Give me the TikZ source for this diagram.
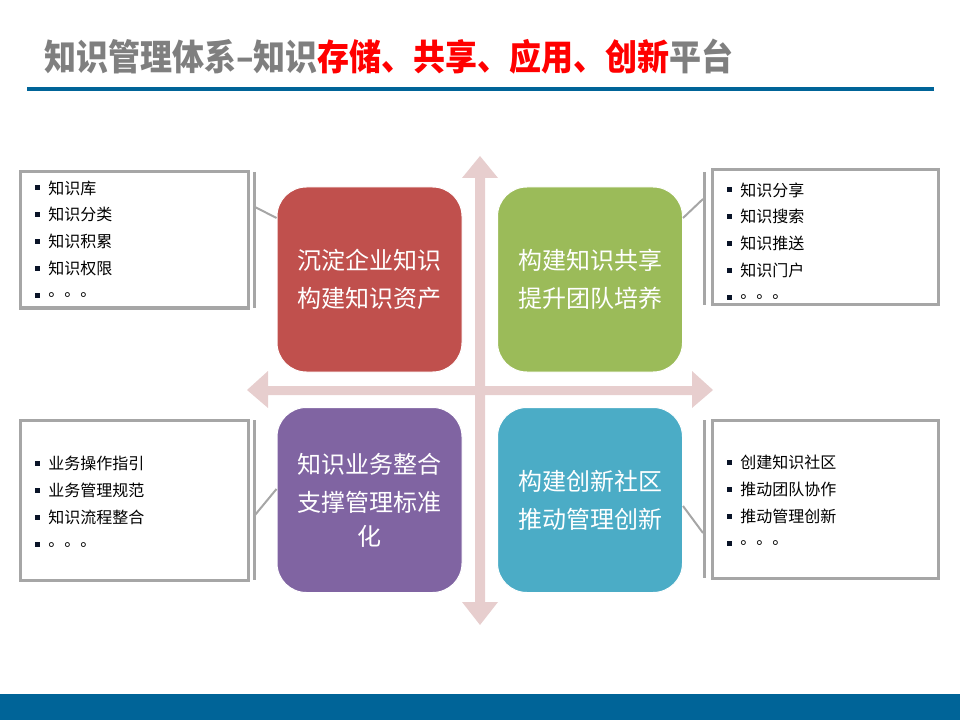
\documentclass[tikz,border=0pt]{standalone}
\usepackage{fontspec}
\usepackage{graphicx}
\setmainfont{Noto Sans CJK SC}
\definecolor{titlegray}{RGB}{127,127,127}
\definecolor{titlered}{RGB}{255,0,0}
\definecolor{barblue}{RGB}{0,100,152}
\definecolor{boxred}{RGB}{192,80,77}
\definecolor{boxgreen}{RGB}{155,187,89}
\definecolor{boxpurple}{RGB}{128,100,162}
\definecolor{boxcyan}{RGB}{75,172,198}
\definecolor{crosspink}{RGB}{231,206,206}
\definecolor{framegray}{RGB}{166,166,166}
\definecolor{bulletcol}{RGB}{10,20,40}
\tikzset{
  quad/.style={rounded corners=22pt, minimum width=138.75pt, minimum height=138.75pt,
    draw=white, line width=0.75pt, text=white, align=center, inner sep=0pt,
    font=\fontsize{18}{28.5}\selectfont},
  listbox/.style={draw=framegray, line width=2.25pt, fill=white, inner sep=0pt},
  bracket/.style={draw=framegray, line width=2.25pt},
  conn/.style={draw=framegray, line width=1.5pt},
  itemtext/.style={anchor=west, inner sep=0pt, font=\fontsize{12}{14}\selectfont, text=black},
}
\begin{document}
\begin{tikzpicture}[x=0.75pt, y=-0.75pt]
\useasboundingbox (0,0) rectangle (960,720);
% title
\node[anchor=west, inner sep=0pt, font=\bfseries\fontsize{24}{28}\selectfont, text=titlegray] (title) at (44,57)
  {\scalebox{1}[1.12]{知识管理体系–知识\textcolor{titlered}{存储、共享、应用、创新}平台}};
\fill[barblue] (27,87) rectangle (934,91);
\fill[barblue] (0,694) rectangle (960,720);
% cross arrows
\fill[crosspink] (475,178) -- (462,178) -- (480,156) -- (498,178) -- (485,178) -- (485,602)
  -- (498,602) -- (480,625) -- (462,602) -- (475,602) -- cycle;
\fill[crosspink] (268,386) -- (268,371) -- (247,390) -- (268,408) -- (268,395) -- (692,395)
  -- (692,408) -- (713,390) -- (692,371) -- (692,386) -- cycle;
% quadrant boxes
\node[quad, fill=boxred] (q1) at (369.5,279.5) {沉淀企业知识\\构建知识资产};
\node[quad, fill=boxgreen] (q2) at (590,279.5) {构建知识共享\\提升团队培养};
\node[quad, fill=boxpurple] (q3) at (369.5,500) {知识业务整合\\支撑管理标准\\[-3pt]化};
\node[quad, fill=boxcyan] (q4) at (590,500) {构建创新社区\\推动管理创新};
% list boxes
\node[listbox, minimum width=171pt, minimum height=102pt] (l1) at (134,240) {};
\node[listbox, minimum width=169.5pt, minimum height=101.25pt] (r1) at (825,237.5) {};
\node[listbox, minimum width=171pt, minimum height=120pt] (l2) at (134,500) {};
\node[listbox, minimum width=169.5pt, minimum height=118.5pt] (r2) at (825,499) {};
% brackets
\draw[bracket] (254,172) -- (254,308);
\draw[bracket] (704,172) -- (704,305);
\draw[bracket] (254,420) -- (254,580);
\draw[bracket] (704,420) -- (704,578);
% connectors
\coordinate (k1) at (255,207); \coordinate (e1) at (277,218);
\coordinate (k2) at (703,199); \coordinate (e2) at (683,218);
\coordinate (k3) at (255,515); \coordinate (e3) at (277,489);
\coordinate (k4) at (703,533); \coordinate (e4) at (683,506);
\draw[conn] (k1) -- (e1 -| q1.west);
\draw[conn] (k2) -- (e2 -| q2.east);
\draw[conn] (k3) -- (e3 -| q3.west);
\draw[conn] (k4) -- (e4 -| q4.east);
% list items
\foreach \t [count=\i from 0] in {知识库,知识分类,知识积累,知识权限,。。。}{
  \fill[bulletcol] (35,185.5+26.8*\i) rectangle ++(5,5);
  \node[itemtext] (la\i) at (48,188+26.8*\i) {\t};
}
\foreach \t [count=\i from 0] in {知识分享,知识搜索,知识推送,知识门户,。。。}{
  \fill[bulletcol] (727,187.5+26.8*\i) rectangle ++(5,5);
  \node[itemtext] (ra\i) at (740,190+26.8*\i) {\t};
}
\foreach \t [count=\i from 0] in {业务操作指引,业务管理规范,知识流程整合,。。。}{
  \fill[bulletcol] (35,460.5+27.2*\i) rectangle ++(5,5);
  \node[itemtext] (lb\i) at (48,463+27.2*\i) {\t};
}
\foreach \t [count=\i from 0] in {创建知识社区,推动团队协作,推动管理创新,。。。}{
  \fill[bulletcol] (727,459.5+27*\i) rectangle ++(5,5);
  \node[itemtext] (rb\i) at (740,462+27*\i) {\t};
}
\end{tikzpicture}
\end{document}
